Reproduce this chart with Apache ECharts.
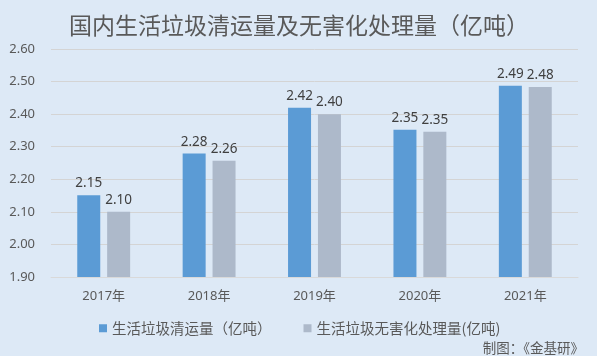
<!DOCTYPE html>
<html><head><meta charset="utf-8">
<script src="https://cdn.jsdelivr.net/npm/echarts@6/dist/echarts.min.js"></script>
<style>html,body{margin:0;padding:0;background:#dde9f6;}#c{width:597px;height:356px;}</style>
</head><body><div id="c"></div>
<script>
var categories = ['2017年','2018年','2019年','2020年','2021年'];
var collected = [2.151, 2.279, 2.42, 2.352, 2.487];
var treated = [2.10, 2.257, 2.40, 2.346, 2.483];
var seriesNames = ['生活垃圾清运量（亿吨）','生活垃圾无害化处理量(亿吨)'];
var title = '国内生活垃圾清运量及无害化处理量（亿吨）';
var note = '制图：《金基研》';

var font = '"Noto Sans","Noto Sans CJK SC",sans-serif';
var chart = echarts.init(document.getElementById('c'));
var lbl = {show:true, position:'top', distance:5, color:'#404040', fontSize:13.5, fontFamily:font,
  formatter:function(p){return p.value.toFixed(2);}};
chart.setOption({
  backgroundColor:'#dde9f6',
  animation:false,
  title:[{text:title, left:64, top:9, textStyle:{fontSize:23, fontWeight:'normal', color:'#595959', fontFamily:'"Noto Sans CJK SC",sans-serif'}},
         {text:note, right:8, top:336, textStyle:{fontSize:13.5, fontWeight:'normal', color:'#595959', fontFamily:'"Noto Sans CJK SC",sans-serif'}}],
  legend:{left:94, top:316, itemWidth:8, itemHeight:8, itemGap:32, icon:'rect',
    textStyle:{fontSize:14.5, color:'#595959', fontFamily:'"Noto Sans CJK SC",sans-serif'},
    data:seriesNames},
  grid:{left:51, right:19, top:49, bottom:79, containLabel:false},
  xAxis:{type:'category', data:categories,
    axisLine:{lineStyle:{color:'#d9d9d9'}}, axisTick:{show:false},
    axisLabel:{color:'#595959', fontSize:13, margin:13, fontFamily:font}},
  yAxis:{type:'value', min:1.9, max:2.6, interval:0.1,
    axisLine:{show:false}, axisTick:{show:false},
    splitLine:{lineStyle:{color:'#d4d4d4'}},
    axisLabel:{color:'#595959', fontSize:13, margin:16, fontFamily:font, formatter:function(v){return v.toFixed(2);}}},
  series:[
    {name:seriesNames[0], type:'bar', data:collected, barWidth:23, barGap:'30%', itemStyle:{color:'#5b9bd5'}, label:lbl},
    {name:seriesNames[1], type:'bar', data:treated, barWidth:23, barGap:'30%', itemStyle:{color:'#adb9ca'}, label:lbl}
  ]
});
</script></body></html>
